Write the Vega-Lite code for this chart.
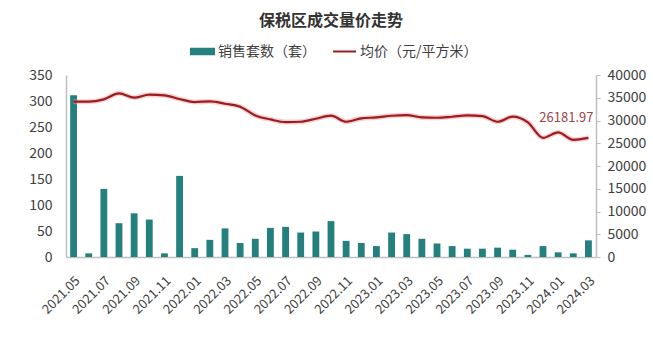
{
  "$schema": "https://vega.github.io/schema/vega-lite/v6.json",
  "width": 530,
  "height": 182,
  "autosize": "none",
  "padding": {"left": 66, "top": 75, "right": 57, "bottom": 94},
  "background": "white",
  "config": {"font": "Noto Sans CJK SC", "view": {"stroke": null}},
  "title": {"text": "保税区成交量价走势", "fontSize": 16, "font": "Noto Sans CJK SC", "fontWeight": "bold", "color": "#333333", "anchor": "middle", "offset": 10},
  "data": {"values": [
    {"month": "2021.05", "sales": 311, "price": 34130},
    {"month": "2021.06", "sales": 7, "price": 34130},
    {"month": "2021.07", "sales": 131, "price": 34650},
    {"month": "2021.08", "sales": 65, "price": 35970},
    {"month": "2021.09", "sales": 84, "price": 35010},
    {"month": "2021.10", "sales": 72, "price": 35670},
    {"month": "2021.11", "sales": 7, "price": 35530},
    {"month": "2021.12", "sales": 156, "price": 34720},
    {"month": "2022.01", "sales": 17, "price": 34060},
    {"month": "2022.02", "sales": 33, "price": 34200},
    {"month": "2022.03", "sales": 55, "price": 33690},
    {"month": "2022.04", "sales": 27, "price": 33030},
    {"month": "2022.05", "sales": 35, "price": 31120},
    {"month": "2022.06", "sales": 56, "price": 30240},
    {"month": "2022.07", "sales": 58, "price": 29650},
    {"month": "2022.08", "sales": 47, "price": 29720},
    {"month": "2022.09", "sales": 49, "price": 30390},
    {"month": "2022.10", "sales": 69, "price": 31050},
    {"month": "2022.11", "sales": 31, "price": 29730},
    {"month": "2022.12", "sales": 27, "price": 30460},
    {"month": "2023.01", "sales": 21, "price": 30680},
    {"month": "2023.02", "sales": 47, "price": 31050},
    {"month": "2023.03", "sales": 44, "price": 31200},
    {"month": "2023.04", "sales": 35, "price": 30680},
    {"month": "2023.05", "sales": 26, "price": 30610},
    {"month": "2023.06", "sales": 21, "price": 30830},
    {"month": "2023.07", "sales": 16, "price": 31120},
    {"month": "2023.08", "sales": 16, "price": 30970},
    {"month": "2023.09", "sales": 18, "price": 29730},
    {"month": "2023.10", "sales": 14, "price": 30830},
    {"month": "2023.11", "sales": 4, "price": 29580},
    {"month": "2023.12", "sales": 21, "price": 26200},
    {"month": "2024.01", "sales": 9, "price": 27380},
    {"month": "2024.02", "sales": 7, "price": 25750},
    {"month": "2024.03", "sales": 32, "price": 26181.97}
  ]},
  "encoding": {
    "x": {
      "field": "month", "type": "ordinal", "sort": null,
      "scale": {"paddingInner": 0.55, "paddingOuter": 0.275},
      "axis": {
        "title": null,
        "values": ["2021.05","2021.07","2021.09","2021.11","2022.01","2022.03","2022.05","2022.07","2022.09","2022.11","2023.01","2023.03","2023.05","2023.07","2023.09","2023.11","2024.01","2024.03"],
        "labelAngle": -45, "labelAlign": "right", "labelBaseline": "top",
        "labelPadding": 17, "labelFontSize": 13, "labelColor": "#404040",
        "ticks": false, "domainColor": "#bfbfbf", "domainWidth": 1.5, "grid": false
      }
    }
  },
  "layer": [
    {
      "mark": {"type": "bar", "color": "#23807d"},
      "encoding": {
        "y": {
          "field": "sales", "type": "quantitative",
          "scale": {"domain": [0, 350]},
          "axis": {"title": null, "values": [0,50,100,150,200,250,300,350], "grid": false, "ticks": false, "domainColor": "#bfbfbf", "domainWidth": 1.5, "labelPadding": 14, "labelFontSize": 14, "labelColor": "#404040"}
        },
        "fill": {
          "datum": "销售套数（套）",
          "scale": {"range": ["#23807d"]},
          "legend": {"title": null, "orient": "none", "legendX": 124, "legendY": -36, "symbolType": "M-1,-0.3H1V0.3H-1Z", "symbolSize": 625, "symbolStrokeWidth": 0, "labelFontSize": 14, "labelColor": "#404040", "labelOffset": 3, "padding": 0}
        }
      }
    },
    {
      "encoding": {
        "y": {
          "field": "price", "type": "quantitative",
          "scale": {"domain": [0, 40000]},
          "axis": {"orient": "right", "title": null, "format": "d", "values": [0,5000,10000,15000,20000,25000,30000,35000,40000], "grid": false, "ticks": true, "tickSize": 4, "tickColor": "#bfbfbf", "domainColor": "#bfbfbf", "domainWidth": 1.5, "labelPadding": 7, "labelFontSize": 14, "labelColor": "#404040"}
        }
      },
      "layer": [
        {
          "mark": {"type": "line", "interpolate": "monotone", "color": "#e9a3a3", "strokeWidth": 5, "opacity": 0.5}
        },
        {
          "mark": {"type": "line", "interpolate": "monotone", "strokeWidth": 2.2},
          "encoding": {
            "stroke": {
              "datum": "均价（元/平方米）",
              "scale": {"range": ["#9e1b1f"]},
              "legend": {"title": null, "orient": "none", "legendX": 266, "legendY": -36, "symbolType": "stroke", "symbolSize": 529, "symbolStrokeWidth": 2, "labelFontSize": 14, "labelColor": "#404040", "labelOffset": 3, "padding": 0}
            }
          }
        },
        {
          "transform": [{"filter": "datum.month === '2024.03'"}],
          "mark": {"type": "text", "align": "right", "baseline": "alphabetic", "dx": 5, "dy": -16, "fontSize": 13, "color": "#a04545"},
          "encoding": {"text": {"field": "price", "type": "quantitative", "format": ".2f"}}
        }
      ]
    }
  ],
  "resolve": {"scale": {"y": "independent"}}
}
